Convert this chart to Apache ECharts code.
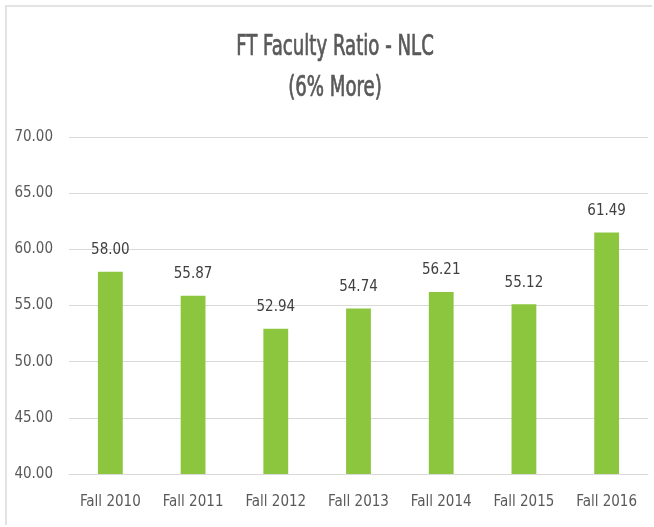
<!DOCTYPE html>
<html>
<head>
<meta charset="utf-8">
<script src="https://cdn.jsdelivr.net/npm/echarts@6/dist/echarts.min.js"></script>
<style>
    html, body { margin: 0; padding: 0; background: #fff; }
    #wrap { position: absolute; left: 5px; top: 5px; width: 647px; height: 520px; border: 2px solid #e3e3e3; border-right: none; border-bottom: none; box-sizing: border-box; }
    #chart { position: absolute; left: 0; top: 0; width: 654px; height: 527px; }
</style>
</head>
<body>
<div id="wrap"></div>
<div id="chart"></div>
<script>
var titleLines = ['FT Faculty Ratio - NLC', '(6% More)'];
var categories = ['Fall 2010', 'Fall 2011', 'Fall 2012', 'Fall 2013', 'Fall 2014', 'Fall 2015', 'Fall 2016'];
var ratios = [58.00, 55.87, 52.94, 54.74, 56.21, 55.12, 61.49];
var yTicks = [40, 70, 5];

var font = "'DejaVu Sans Condensed', sans-serif";
var myChart = echarts.init(document.getElementById('chart'));

/*标题: 窄字体, 用 scaleX 压缩*/
var titleGraphics = titleLines.map(function (t, i) {
    return {
        type: 'text',
        x: 335,
        y: 48 + i * 41,
        scaleX: 0.72,
        style: {
            text: t,
            fontFamily: font,
            fontSize: 28,
            fill: '#595959',
            stroke: '#595959',
            lineWidth: 0.7,
            align: 'center',
            verticalAlign: 'middle'
        }
    };
});

var options = {
    animation: false,
    graphic: titleGraphics,
    grid: {
        left: 69,
        right: 6,
        top: 137,
        bottom: 53
    },
    xAxis: {
        type: 'category',
        data: categories,
        axisLine: { lineStyle: { color: '#d9d9d9' } },
        axisTick: { show: false },
        axisLabel: {
            fontFamily: font,
            fontSize: 15,
            color: '#595959',
            margin: 21
        }
    },
    yAxis: {
        type: 'value',
        min: yTicks[0],
        max: yTicks[1],
        interval: yTicks[2],
        axisLine: { show: false },
        axisTick: { show: false },
        splitLine: { lineStyle: { color: '#d9d9d9' } },
        axisLabel: {
            fontFamily: font,
            fontSize: 15,
            color: '#595959',
            margin: 16,
            formatter: function (v) { return v.toFixed(2); }
        }
    },
    series: [
        {
            type: 'bar',
            data: ratios,
            barWidth: '30%',
            itemStyle: { color: '#8cc63f' },
            label: {
                show: true,
                position: 'top',
                distance: 14,
                fontFamily: font,
                fontSize: 15,
                color: '#404040',
                formatter: function (p) { return p.value.toFixed(2); }
            }
        }
    ]
};
myChart.setOption(options);
</script>
</body>
</html>
